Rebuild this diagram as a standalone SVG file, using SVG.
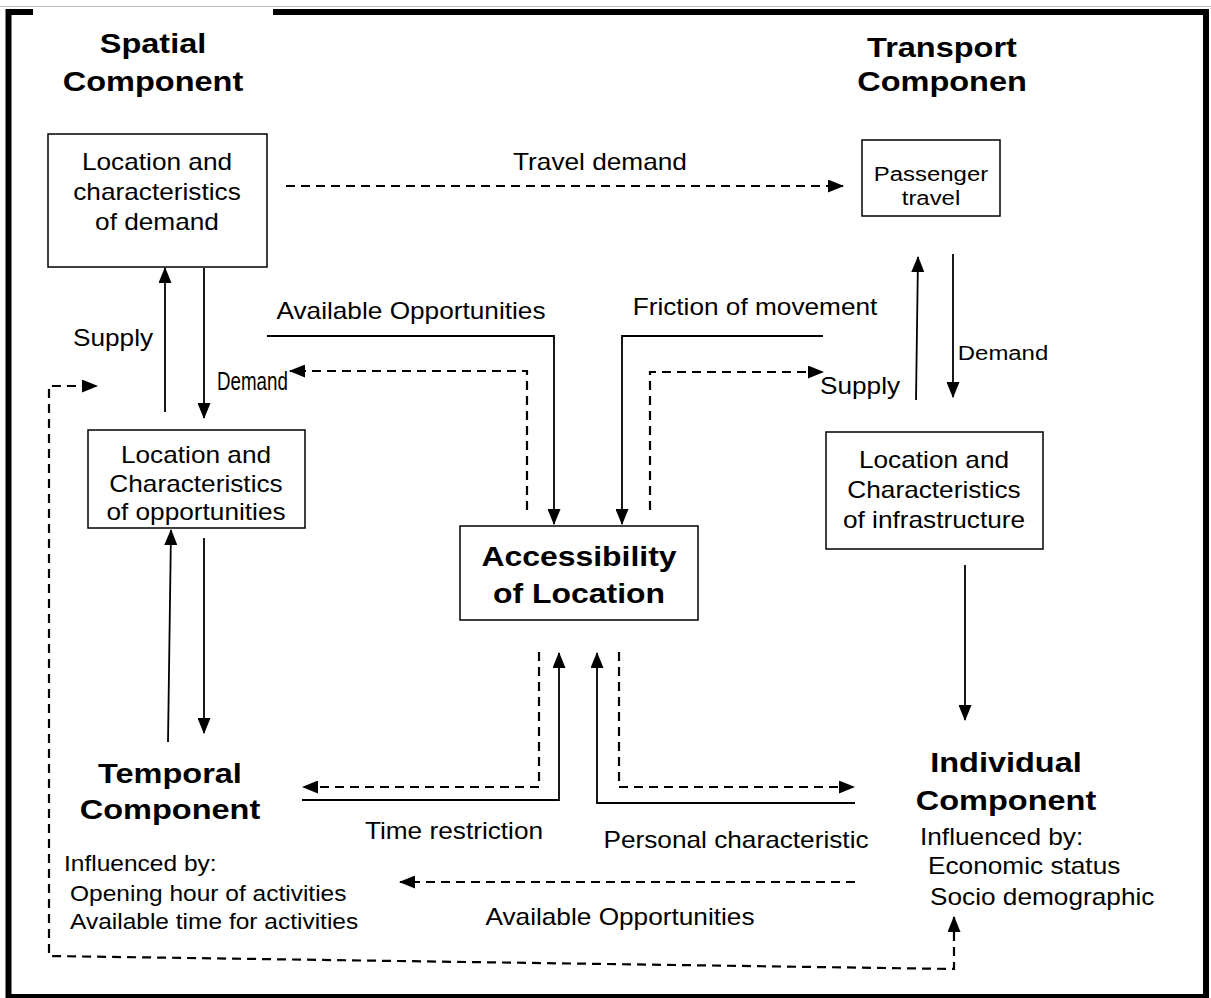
<svg xmlns="http://www.w3.org/2000/svg" width="1211" height="998" viewBox="0 0 1211 998">
<style>
.t{font-family:"Liberation Sans",Arial,sans-serif;font-size:23px;fill:#000}
.s{font-size:21.5px}
.b{font-weight:bold;font-size:28.5px}
.m{text-anchor:middle}
.box{fill:#fff;stroke:#000;stroke-width:1.5}
.ln{fill:none;stroke:#000;stroke-width:1.8}
.ds{fill:none;stroke:#000;stroke-width:2.2;stroke-dasharray:9 6}
</style>
<defs>
<marker id="a" markerWidth="16" markerHeight="13" refX="15" refY="6.5" orient="auto-start-reverse" markerUnits="userSpaceOnUse">
<path d="M0,0 L16,6.5 L0,13 Z" fill="#000"/>
</marker>
</defs>
<rect width="1211" height="998" fill="#fff"/>
<line x1="0" y1="6.5" x2="1211" y2="6.5" stroke="#bbb" stroke-width="1"/>
<rect x="8.5" y="12" width="1197.5" height="985" fill="none" stroke="#000" stroke-width="6"/>
<rect x="33" y="8.5" width="240" height="8" fill="#fff"/>

<g id="title-spatial">
<text class="t b m" transform="translate(153,53) scale(1.14,1)">Spatial</text>
<text class="t b m" transform="translate(153,91) scale(1.14,1)">Component</text>
</g>
<g id="title-transport">
<text class="t b m" transform="translate(942,57) scale(1.14,1)">Transport</text>
<text class="t b m" transform="translate(942,91) scale(1.14,1)">Componen</text>
</g>
<g id="title-temporal">
<text class="t b m" transform="translate(170,783) scale(1.14,1)">Temporal</text>
<text class="t b m" transform="translate(170,819) scale(1.14,1)">Component</text>
<text class="t s" transform="translate(64,871) scale(1.14,1)">Influenced by:</text>
<text class="t s" transform="translate(70,901) scale(1.14,1)">Opening hour of activities</text>
<text class="t s" transform="translate(70,929) scale(1.14,1)">Available time for activities</text>
</g>
<g id="title-individual">
<text class="t b m" transform="translate(1006,772) scale(1.14,1)">Individual</text>
<text class="t b m" transform="translate(1006,810) scale(1.14,1)">Component</text>
<text class="t" transform="translate(920,845) scale(1.14,1)">Influenced by:</text>
<text class="t" transform="translate(928,874) scale(1.14,1)">Economic status</text>
<text class="t" transform="translate(930,905) scale(1.14,1)">Socio demographic</text>
</g>

<g id="demand-location">
<rect class="box" x="48" y="134" width="219" height="133"/>
<text class="t m" transform="translate(157,170) scale(1.14,1)">Location and</text>
<text class="t m" transform="translate(157,200) scale(1.14,1)">characteristics</text>
<text class="t m" transform="translate(157,230) scale(1.14,1)">of demand</text>
</g>
<g id="passenger-travel">
<rect class="box" x="862" y="140" width="138" height="76"/>
<text class="t m" style="font-size:21px" transform="translate(931,181) scale(1.14,1)">Passenger</text>
<text class="t m" style="font-size:21px" transform="translate(931,205) scale(1.14,1)">travel</text>
</g>
<g id="opportunities-location">
<rect class="box" x="88" y="430" width="217" height="98"/>
<text class="t m" transform="translate(196,463) scale(1.14,1)">Location and</text>
<text class="t m" transform="translate(196,492) scale(1.14,1)">Characteristics</text>
<text class="t m" transform="translate(196,520) scale(1.14,1)">of opportunities</text>
</g>
<g id="accessibility">
<rect class="box" x="460" y="526" width="238" height="94"/>
<text class="t m" style="font-weight:bold;font-size:28px" transform="translate(579,566) scale(1.14,1)">Accessibility</text>
<text class="t m" style="font-weight:bold;font-size:28px" transform="translate(579,603) scale(1.14,1)">of Location</text>
</g>
<g id="infrastructure-location">
<rect class="box" x="826" y="432" width="217" height="117"/>
<text class="t m" transform="translate(934,468) scale(1.14,1)">Location and</text>
<text class="t m" transform="translate(934,498) scale(1.14,1)">Characteristics</text>
<text class="t m" transform="translate(934,528) scale(1.14,1)">of infrastructure</text>
</g>

<g id="connectors">
<path class="ds" d="M286,186 H843" marker-end="url(#a)"/>
<path class="ln" d="M165,412 V268" marker-end="url(#a)"/>
<path class="ln" d="M204,268 V418" marker-end="url(#a)"/>
<path class="ds" d="M527,510 V371 H290" marker-end="url(#a)"/>
<path class="ln" d="M267,336 H554 V524" marker-end="url(#a)"/>
<path class="ln" d="M823,336 H622 V524" marker-end="url(#a)"/>
<path class="ds" d="M650,510 V372 H823" marker-end="url(#a)"/>
<path class="ln" d="M916,400 L918,257" marker-end="url(#a)"/>
<path class="ln" d="M953,254 V397" marker-end="url(#a)"/>
<path class="ln" d="M965,565 V720" marker-end="url(#a)"/>
<path class="ln" d="M168,742 L171,530" marker-end="url(#a)"/>
<path class="ln" d="M204,538 V733" marker-end="url(#a)"/>
<path class="ln" d="M302,800 H559 V653" marker-end="url(#a)"/>
<path class="ds" d="M539,652 V787 H303" marker-end="url(#a)"/>
<path class="ln" d="M855,803 H597 V653" marker-end="url(#a)"/>
<path class="ds" d="M619,652 V787 H854" marker-end="url(#a)"/>
<path class="ds" d="M855,882 H400" marker-end="url(#a)"/>
<path class="ds" d="M954,917 V969 L49,956 V386 H97" marker-start="url(#a)" marker-end="url(#a)"/>
</g>

<g id="labels">
<text class="t m" transform="translate(600,170) scale(1.14,1)">Travel demand</text>
<text class="t m" transform="translate(411,319) scale(1.14,1)">Available Opportunities</text>
<text class="t m" transform="translate(755,315) scale(1.14,1)">Friction of movement</text>
<text class="t m" transform="translate(113,346) scale(1.14,1)">Supply</text>
<text class="t" style="font-size:25px" transform="translate(217,390) scale(0.75,1)">Demand</text>
<text class="t m" transform="translate(860,394) scale(1.14,1)">Supply</text>
<text class="t m" style="font-size:21px" transform="translate(1003,360) scale(1.14,1)">Demand</text>
<text class="t m" transform="translate(454,839) scale(1.14,1)">Time restriction</text>
<text class="t m" transform="translate(736,848) scale(1.14,1)">Personal characteristic</text>
<text class="t m" transform="translate(620,925) scale(1.14,1)">Available Opportunities</text>
</g>
</svg>
